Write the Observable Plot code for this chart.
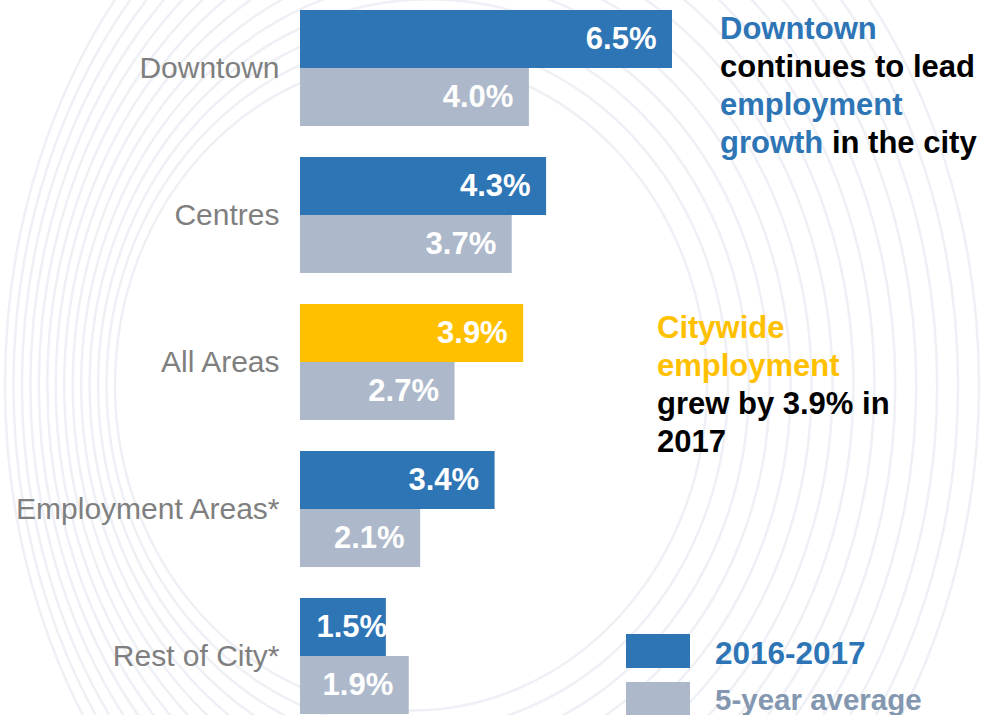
<!DOCTYPE html>
<html>
<head>
<meta charset="utf-8">
<script src="https://cdn.jsdelivr.net/npm/d3@7"></script>
<script src="https://cdn.jsdelivr.net/npm/@observablehq/plot@0.6"></script>
<style>
  html, body { margin: 0; padding: 0; background: #fff; }
  #wrap { position: relative; width: 984px; height: 715px; overflow: hidden; font-family: "Liberation Sans", Arial, sans-serif; }
  #wrap > svg { position: absolute; left: 0; top: 0; }
</style>
</head>
<body>
<div id="wrap"></div>
<script>
// ---- data ----
const categories = ["Downtown", "Centres", "All Areas", "Employment Areas*", "Rest of City*"];
const seriesNames = ["2016-2017", "5-year average"];
const growth2017 = [6.5, 4.3, 3.9, 3.4, 1.5];
const fiveYearAvg = [4.0, 3.7, 2.7, 2.1, 1.9];

const rows = [];
categories.forEach((c, i) => {
  rows.push({category: c, series: seriesNames[0], value: growth2017[i]});
  rows.push({category: c, series: seriesNames[1], value: fiveYearAvg[i]});
});

const BLUE = "#2e75b6", GREY = "#adb9ca", YELLOW = "#ffc000";
const fillOf = d => d.series === seriesNames[1] ? GREY : (d.category === "All Areas" ? YELLOW : BLUE);
const fmt = d => d.value.toFixed(1) + "%";

const W = 984, H = 715;
const wrap = document.getElementById("wrap");

// ---- decorative background arcs ----
const bg = d3.create("svg").attr("width", W).attr("height", H);
const nRings = 14;
for (let i = 0; i < nRings; i++) {
  const t = i / (nRings - 1);
  const rx = 296 + 191 * t;
  bg.append("ellipse")
    .attr("cx", 411 + 81 * t).attr("cy", 385)
    .attr("rx", rx).attr("ry", rx * (1.1 + 0.15 * t))
    .attr("fill", "none").attr("stroke", "#eef0f6").attr("stroke-width", 2.5);
}
wrap.appendChild(bg.node());

// ---- chart ----
const chart = Plot.plot({
  width: W,
  height: H,
  marginLeft: 300,
  marginRight: 312,
  marginTop: 9,
  marginBottom: 0,
  style: {background: "transparent", fontFamily: "'Liberation Sans', Arial, sans-serif"},
  x: {domain: [0, 6.5], axis: null},
  y: {domain: seriesNames, padding: 0, axis: null},
  fy: {domain: categories, paddingInner: 0.204, paddingOuter: 0, label: null},
  marks: [
    Plot.axisFy({anchor: "left", tickSize: 0, tickPadding: 21, fontSize: 30, color: "#7f7f7f", label: null}),
    Plot.barX(rows, {x: "value", y: "series", fy: "category", fill: fillOf}),
    Plot.text(rows.filter(d => d.value >= 1.8), {
      x: "value", y: "series", fy: "category", text: fmt,
      textAnchor: "end", dx: -16, fill: "white", fontWeight: "bold", fontSize: 31
    }),
    Plot.text(rows.filter(d => d.value < 1.8), {
      y: "series", fy: "category", text: fmt, frameAnchor: "left",
      textAnchor: "start", dx: 16, fill: "white", fontWeight: "bold", fontSize: 31
    })
  ]
});
wrap.appendChild(chart);

// ---- annotations & legend ----
const ov = d3.create("svg").attr("width", W).attr("height", H)
  .style("font-family", "'Liberation Sans', Arial, sans-serif")
  .style("font-weight", "bold").style("font-size", "31px");

function lines(x, y0, lh, spec) {
  spec.forEach((parts, i) => {
    const t = ov.append("text").attr("x", x).attr("y", y0 + i * lh);
    parts.forEach(([s, c]) => t.append("tspan").attr("fill", c).text(s));
  });
}
lines(720, 39, 38, [
  [["Downtown", BLUE]],
  [["continues to lead", "#000"]],
  [["employment", BLUE]],
  [["growth", BLUE], [" in the city", "#000"]]
]);
lines(657, 338, 38, [
  [["Citywide", YELLOW]],
  [["employment", YELLOW]],
  [["grew by 3.9% in", "#000"]],
  [["2017", "#000"]]
]);

// legend
ov.append("rect").attr("x", 626).attr("y", 634).attr("width", 64).attr("height", 34).attr("fill", BLUE);
ov.append("rect").attr("x", 626).attr("y", 682).attr("width", 64).attr("height", 40).attr("fill", GREY);
ov.append("text").attr("x", 715).attr("y", 664).attr("fill", BLUE).style("font-size", "31.5px").text(seriesNames[0]);
ov.append("text").attr("x", 715).attr("y", 710).attr("fill", "#8497b0").style("font-size", "29.5px").text(seriesNames[1]);

wrap.appendChild(ov.node());
</script>
</body>
</html>
